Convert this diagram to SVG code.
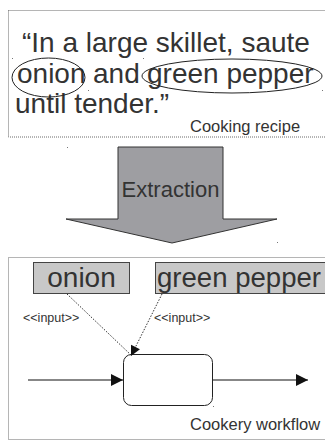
<svg xmlns="http://www.w3.org/2000/svg" width="325" height="441" viewBox="0 0 325 441">
<defs>
<style>
.frame{fill:none;stroke:#6a6a6a;stroke-width:1;stroke-dasharray:1,1}
.big{font-family:"Liberation Sans",Arial,sans-serif;font-size:28px;fill:#333}
.small{font-family:"Liberation Sans",Arial,sans-serif;font-size:16.5px;fill:#333}
.tiny{font-family:"Liberation Sans",Arial,sans-serif;font-size:12.5px;fill:#333}
.ell{fill:none;stroke:#222;stroke-width:1}
.box{fill:#c8c8c8;stroke:#444;stroke-width:1}
.dot{fill:#777}
.dep{fill:none;stroke:#333;stroke-width:1;stroke-dasharray:1.5,1.5}
.flow{fill:none;stroke:#111;stroke-width:1.2}
</style>
<marker id="ah" viewBox="0 0 10 10" refX="10" refY="5" markerWidth="12" markerHeight="10" markerUnits="userSpaceOnUse" orient="auto">
<path d="M0,0 L10,5 L0,10 z" fill="#111"/>
</marker>
<marker id="ahb" viewBox="0 0 10 10" refX="10" refY="5" markerWidth="16" markerHeight="12" markerUnits="userSpaceOnUse" orient="auto">
<path d="M0,0 L10,5 L0,10 z" fill="#111"/>
</marker>
</defs>
<rect width="325" height="441" fill="#fff"/>

<g id="recipe">
<rect class="frame" x="8.5" y="10.5" width="320" height="126.5"/>
<text class="big" x="22" y="52">“In a large skillet, saute</text>
<text class="big" x="17" y="83">onion</text>
<text class="big" x="93" y="83">and</text>
<text class="big" x="147" y="83">green pepper</text>
<text class="big" x="15" y="113">until tender.”</text>
<ellipse class="ell" cx="48.5" cy="77.5" rx="36.5" ry="19.5"/>
<ellipse class="ell" cx="232" cy="76" rx="90" ry="17"/>
<text class="small" x="190" y="132">Cooking recipe</text>
<rect class="dot" x="12" y="58" width="1" height="1"/>
<rect class="dot" x="88" y="90" width="1" height="1"/>
<rect class="dot" x="143" y="58" width="1" height="1"/>
<rect class="dot" x="322" y="90" width="1" height="1"/>
</g>

<g id="extraction">
<polygon points="118,147 223,147 223,219 277,219 172,243 66,219 118,219" fill="#9e9ea2" stroke="#333" stroke-width="1"/>
<text x="170.5" y="197" text-anchor="middle" font-family="'Liberation Sans',Arial,sans-serif" font-size="22" fill="#333">Extraction</text>
<rect class="dot" x="67" y="147" width="1" height="1"/>
<rect class="dot" x="277" y="242" width="1" height="1"/>
</g>

<g id="workflow">
<rect class="frame" x="8.5" y="257.5" width="320" height="182"/>
<text class="small" x="190" y="430">Cookery workflow</text>
</g>

<g id="onion">
<rect class="box" x="33.5" y="262.5" width="96" height="31"/>
<text class="big" x="81.5" y="287" text-anchor="middle">onion</text>
</g>

<g id="green-pepper">
<rect class="box" x="155.5" y="262.5" width="170" height="31"/>
<text class="big" x="157" y="287" textLength="164" lengthAdjust="spacingAndGlyphs">green pepper</text>
</g>

<g id="task">
<rect x="123.5" y="354.5" width="89" height="51" rx="8" ry="8" fill="#fff" stroke="#222" stroke-width="1"/>
<rect class="dot" x="213" y="406" width="1" height="1"/>
</g>

<g id="connectors">
<line class="dep" x1="67" y1="294" x2="131" y2="355"/>
<line class="dep" x1="162" y1="294" x2="131" y2="356" marker-end="url(#ah)"/>
<text class="tiny" x="23" y="322">&lt;&lt;input&gt;&gt;</text>
<text class="tiny" x="154" y="322">&lt;&lt;input&gt;&gt;</text>
<line class="flow" x1="28" y1="380" x2="123" y2="380" marker-end="url(#ahb)"/>
<line class="flow" x1="213" y1="380" x2="308" y2="380" marker-end="url(#ahb)"/>
</g>
</svg>
